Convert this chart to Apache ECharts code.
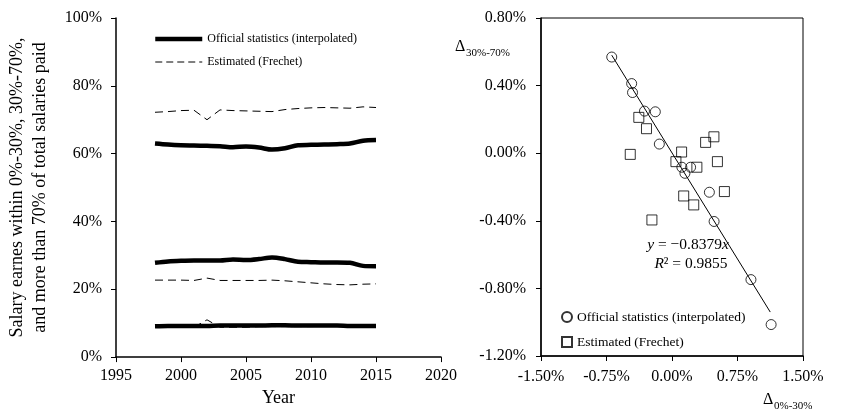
<!DOCTYPE html>
<html>
<head>
<meta charset="utf-8">
<script src="https://cdn.jsdelivr.net/npm/echarts@6/dist/echarts.min.js"></script>
<style>html,body{margin:0;padding:0;background:#fff}#c{width:855px;height:412px}</style>
</head>
<body>
<div id="c"></div>
<script>
// ---- Left chart data (shares of total salaries, %) ----
var years = [1998,1999,2000,2001,2002,2003,2004,2005,2006,2007,2008,2009,2010,2011,2012,2013,2014,2015];
var officialTop     = [63.0,62.7,62.5,62.4,62.3,62.2,61.9,62.1,61.8,61.2,61.6,62.5,62.6,62.7,62.8,63.0,63.8,64.0];
var officialMid     = [27.8,28.2,28.4,28.5,28.5,28.5,28.8,28.6,28.9,29.4,28.9,28.1,28.0,27.9,27.9,27.8,26.9,26.8];
var officialBottom  = [9.1,9.2,9.2,9.2,9.2,9.3,9.3,9.3,9.3,9.4,9.4,9.3,9.3,9.3,9.3,9.2,9.2,9.2];
var estimatedTop    = [72.2,72.4,72.7,72.8,70.0,72.9,72.7,72.6,72.5,72.4,73.0,73.3,73.5,73.6,73.5,73.4,73.8,73.6];
var estimatedMid    = [22.7,22.7,22.7,22.6,23.3,22.6,22.6,22.6,22.6,22.7,22.5,22.2,21.9,21.6,21.4,21.3,21.5,21.6];
var estimatedBottom = [8.8,8.8,8.8,8.8,11.0,8.8,8.8,8.8,9.0,9.0,9.0,9.0,9.0,9.1,9.1,9.1,9.1,9.0];

// ---- Right chart data (year-on-year changes, %) ----
var officialDelta = [[-0.69,0.569],[-0.462,0.412],[-0.452,0.359],[-0.315,0.249],[-0.191,0.245],[-0.145,0.054],
  [0.113,-0.083],[0.213,-0.083],[0.148,-0.119],[0.428,-0.231],[0.482,-0.404],[0.904,-0.748],[1.135,-1.014]];
var estimatedDelta = [[-0.38,0.212],[-0.292,0.145],[-0.478,-0.007],[0.11,0.007],[0.045,-0.05],[0.385,0.064],
  [0.48,0.097],[0.285,-0.083],[0.52,-0.05],[0.134,-0.253],[0.249,-0.306],[0.60,-0.227],[-0.23,-0.395]];
var trendLine = [[-0.69,0.58],[1.125,-0.94]];

var NAME_OFF = 'Official statistics (interpolated)';
var NAME_EST = 'Estimated (Frechet)';
var FONT = 'Liberation Serif';

function pairs(ys){ return years.map(function(y,i){ return [y, ys[i]]; }); }

var chart = echarts.init(document.getElementById('c'), null, {renderer:'canvas'});

var axisLineStyle = {show:true, onZero:false, lineStyle:{color:'#000', width:1.5}};
var tickStyle = {show:true, inside:false, length:5, lineStyle:{color:'#000', width:1}};
var labelBase = {color:'#000', fontFamily:FONT, fontSize:16};
var pct2 = function(v){ return v.toFixed(2)+'%'; };

function solid(data){ return {type:'line', name:NAME_OFF, xAxisIndex:0, yAxisIndex:0, data:pairs(data), symbol:'none', smooth:0.3, lineStyle:{color:'#000', width:4.5}, itemStyle:{color:'#000'}, z:3}; }
function dashed(data){ return {type:'line', name:NAME_EST, xAxisIndex:0, yAxisIndex:0, data:pairs(data), symbol:'none', lineStyle:{color:'#000', width:1, type:[8,5]}, itemStyle:{color:'#000'}, z:4}; }

var hiddenSym = {color:'rgba(0,0,0,0)', borderWidth:0, opacity:0};

var option = {
  animation:false,
  backgroundColor:'#fff',
  textStyle:{fontFamily:FONT},
  grid:[
    {left:116, right:414, top:18, bottom:54, containLabel:false},
    {left:541, right:52, top:18, bottom:56, containLabel:false, show:true, borderColor:'#000', borderWidth:1, backgroundColor:'transparent'}
  ],
  xAxis:[
    {gridIndex:0, type:'value', min:1995, max:2020, interval:5, splitLine:{show:false},
     axisLine:axisLineStyle, axisTick:tickStyle,
     axisLabel:Object.assign({margin:11, formatter:function(v){ return String(v); }}, labelBase),
     name:'Year', nameLocation:'middle', nameGap:29, nameTextStyle:{color:'#000', fontFamily:FONT, fontSize:18}},
    {gridIndex:1, type:'value', min:-1.5, max:1.5, interval:0.75, splitLine:{show:false},
     axisLine:axisLineStyle, axisTick:tickStyle,
     axisLabel:Object.assign({margin:13, formatter:pct2}, labelBase)}
  ],
  yAxis:[
    {gridIndex:0, type:'value', min:0, max:100, interval:20, splitLine:{show:false},
     axisLine:axisLineStyle, axisTick:tickStyle,
     axisLabel:Object.assign({margin:14, formatter:'{value}%'}, labelBase),
     name:'Salary earnes within 0%-30%, 30%-70%,\nand more than 70% of total salaries paid',
     nameLocation:'middle', nameGap:64, nameRotate:90,
     nameTextStyle:{color:'#000', fontFamily:FONT, fontSize:18, lineHeight:23}},
    {gridIndex:1, type:'value', min:-1.2, max:0.8, interval:0.4, splitLine:{show:false},
     axisLine:axisLineStyle, axisTick:tickStyle,
     axisLabel:Object.assign({margin:15, formatter:pct2}, labelBase)}
  ],
  legend:[
    {orient:'vertical', left:153, top:33, padding:0, itemWidth:47, itemHeight:14, itemGap:11,
     textStyle:{color:'#000', fontFamily:FONT, fontSize:12},
     data:[{name:NAME_OFF, itemStyle:hiddenSym, lineStyle:{width:4.5, color:'#000'}},
           {name:NAME_EST, itemStyle:hiddenSym, lineStyle:{width:1, type:[7,4], color:'#000'}}]},
    {orient:'vertical', left:561, top:310, padding:0, itemWidth:10, itemHeight:10, itemGap:11,
     textStyle:{color:'#000', fontFamily:FONT, fontSize:13.5},
     data:[NAME_OFF+' ', NAME_EST+' ']}
  ],
  series:[
    solid(officialTop), solid(officialMid), solid(officialBottom),
    dashed(estimatedTop), dashed(estimatedMid), dashed(estimatedBottom),
    {type:'line', name:'trend', xAxisIndex:1, yAxisIndex:1, data:trendLine, symbol:'none', lineStyle:{color:'#000', width:1}, z:2, silent:true},
    {type:'scatter', name:NAME_OFF+' ', xAxisIndex:1, yAxisIndex:1, data:officialDelta, symbol:'circle', symbolSize:10,
     itemStyle:{color:'rgba(255,255,255,0)', borderColor:'#000', borderWidth:1}, z:3},
    {type:'scatter', name:NAME_EST+' ', xAxisIndex:1, yAxisIndex:1, data:estimatedDelta, symbol:'rect', symbolSize:10,
     itemStyle:{color:'rgba(255,255,255,0)', borderColor:'#000', borderWidth:1}, z:3}
  ],
  graphic:[
    {type:'text', x:688, y:245, style:{text:'{i|y}{n| = \u22120.8379}{i|x}', align:'center', verticalAlign:'middle',
      rich:{i:{fontStyle:'italic', fontFamily:FONT, fontSize:15.5, fill:'#000'}, n:{fontFamily:FONT, fontSize:15.5, fill:'#000'}}}},
    {type:'text', x:691, y:264, style:{text:'{i|R}{n|\u00b2 = 0.9855}', align:'center', verticalAlign:'middle',
      rich:{i:{fontStyle:'italic', fontFamily:FONT, fontSize:15.5, fill:'#000'}, n:{fontFamily:FONT, fontSize:15.5, fill:'#000'}}}},
    {type:'text', x:455, y:47, style:{text:'\u0394', font:'16px Liberation Serif', fill:'#000', align:'left', verticalAlign:'middle'}},
    {type:'text', x:466, y:53, style:{text:'30%-70%', font:'11px Liberation Serif', fill:'#000', align:'left', verticalAlign:'middle'}},
    {type:'text', x:763, y:400, style:{text:'\u0394', font:'16px Liberation Serif', fill:'#000', align:'left', verticalAlign:'middle'}},
    {type:'text', x:774, y:406, style:{text:'0%-30%', font:'11px Liberation Serif', fill:'#000', align:'left', verticalAlign:'middle'}}
  ]
};
chart.setOption(option);
</script>
</body>
</html>
